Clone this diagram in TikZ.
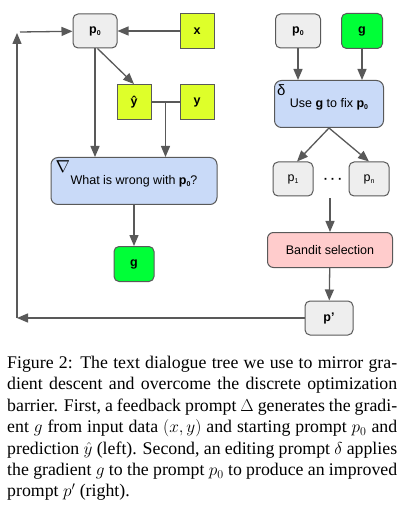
\documentclass[tikz,border=0pt]{standalone}
\definecolor{edgegray}{RGB}{89, 89, 89}
\definecolor{promptgray}{RGB}{238, 238, 238}
\definecolor{datalime}{RGB}{222, 255, 42}
\definecolor{gradgreen}{RGB}{0, 255, 55}
\definecolor{editblue}{RGB}{201, 218, 248}
\definecolor{banditpink}{RGB}{255, 204, 204}
\usepackage{fontspec}
\setmainfont{Liberation Serif}
\setsansfont{Liberation Sans}
\usepackage{tikz}
\usetikzlibrary{arrows.meta, positioning, calc}
\usepackage{amsmath, amssymb}
\newcommand{\pzero}{\textbf{p}\raisebox{-0.4ex}{\fontsize{7}{7}\selectfont\bfseries 0}}
\newcommand{\psub}[1]{p\raisebox{-0.4ex}{\fontsize{7}{7}\selectfont #1}}

\tikzset{
  box/.style={draw=edgegray, line width=1pt, inner sep=0pt, font=\sffamily\fontsize{12.5}{14}\selectfont},
  promptbox/.style={box, fill=promptgray, rounded corners=5pt, minimum height=34pt},
  databox/.style={box, fill=datalime, minimum width=34pt, minimum height=35pt, font=\sffamily\bfseries\fontsize{12.5}{14}\selectfont},
  gradbox/.style={box, fill=gradgreen, rounded corners=5pt, minimum width=40pt, minimum height=35pt, font=\sffamily\bfseries\fontsize{12.5}{14}\selectfont},
  editbox/.style={box, fill=editblue, rounded corners=7pt, minimum height=47pt},
  flow/.style={draw=edgegray, line width=1.3pt, -{Triangle[length=11pt, width=9pt]}},
  link/.style={draw=edgegray, line width=1.3pt}
}

\begin{document}
\begin{tikzpicture}[x=1pt, y=-1pt]
  \useasboundingbox (0,0) rectangle (416,518);

  % left: feedback prompt
  \node[promptbox, minimum width=44pt] (lp) at (95,31) {\pzero};
  \node[databox] (xin) at (197,31) {x};
  \node[databox] (yhat) at (134,102) {ŷ};
  \node[databox] (yin) at (197,102) {y};
  \node[editbox, minimum width=166pt] (feedback) at (134,181) {\raisebox{-3pt}{What is wrong with \pzero?}};
  \node[anchor=north west, inner sep=0pt, font=\fontsize{17}{17}\selectfont] (nabla) at ($(feedback.north west)+(5,3)$) {$\nabla$};
  \node[gradbox] (lg) at (134,264) {g};

  \draw[flow] (xin) -- (lp);
  \draw[flow] (lp.south east) ++(-20,0) coordinate (lpout) -- (yhat.north);
  \draw[flow] (lp.south) -- (lp.south |- feedback.north);
  \draw[link] (yhat) -- (yin);
  \coordinate (join) at ($(yhat.east)!0.5!(yin.west)$);
  \draw[flow] (join) -- (join |- feedback.north);
  \draw[flow] (feedback) -- (lg);

  % right: editing prompt
  \node[promptbox, minimum width=45pt] (rp) at (298,31) {\pzero};
  \node[gradbox, minimum width=41pt] (rg) at (362,31) {g};
  \node[editbox, minimum width=109pt] (edit) at (329,104) {\raisebox{-2pt}{Use \textbf{g} to fix \pzero}};
  \node[anchor=north west, inner sep=0pt, font=\sffamily\fontsize{15}{15}\selectfont] (delta) at ($(edit.north west)+(3,4)$) {δ};
  \node[promptbox, minimum width=40pt] (p1) at (293,179) {\psub{1}};
  \node[promptbox, minimum width=40pt] (pn) at (369,179) {\psub{n}};
  \node[inner sep=0pt, minimum height=34pt, font=\sffamily\bfseries\fontsize{12.5}{14}\selectfont] (dots) at (333,181) {·\hspace{3pt}·\hspace{3pt}·};
  \node[box, fill=banditpink, rounded corners=6pt, minimum width=125pt, minimum height=35pt] (bandit) at (330,250) {Bandit selection};
  \node[promptbox, minimum width=48pt, font=\sffamily\bfseries\fontsize{12.5}{14}\selectfont] (pnew) at (329,318) {p'};

  \draw[flow] (rp) -- (rp |- edit.north);
  \draw[flow] (rg) -- (rg |- edit.north);
  \draw[flow] (edit.south) -- ($(p1.north)+(4,0)$);
  \draw[flow] (edit.south) -- (pn.north);
  \draw[flow] (dots.south -| bandit.north) -- (bandit.north);
  \draw[flow] (bandit) -- (pnew);

  % loop back to the start
  \coordinate (loopbot) at (17,318);
  \coordinate (looptop) at (17,33);
  \coordinate (loopin) at (20,32);
  \draw[flow] (pnew) -- (loopbot);
  \draw[flow] (loopbot) -- (looptop);
  \draw[flow] (loopin) -- (lp);

  % caption
  \node[anchor=north west, inner sep=0pt, text width=390pt, align=justify,
        font=\fontsize{17.8}{21.4}\selectfont] (caption) at (7,356) {%
    Figure 2: The text dialogue tree we use to mirror gra-\linebreak
    dient descent and overcome the discrete optimization\linebreak
    barrier. First, a feedback prompt $\Delta$ generates the gradi-\linebreak
    ent $g$ from input data $(x,y)$ and starting prompt $p_0$ and\linebreak
    prediction $\hat{y}$ (left). Second, an editing prompt $\delta$ applies\linebreak
    the gradient $g$ to the prompt $p_0$ to produce an improved\linebreak
    prompt $p'$ (right).};
\end{tikzpicture}
\end{document}
